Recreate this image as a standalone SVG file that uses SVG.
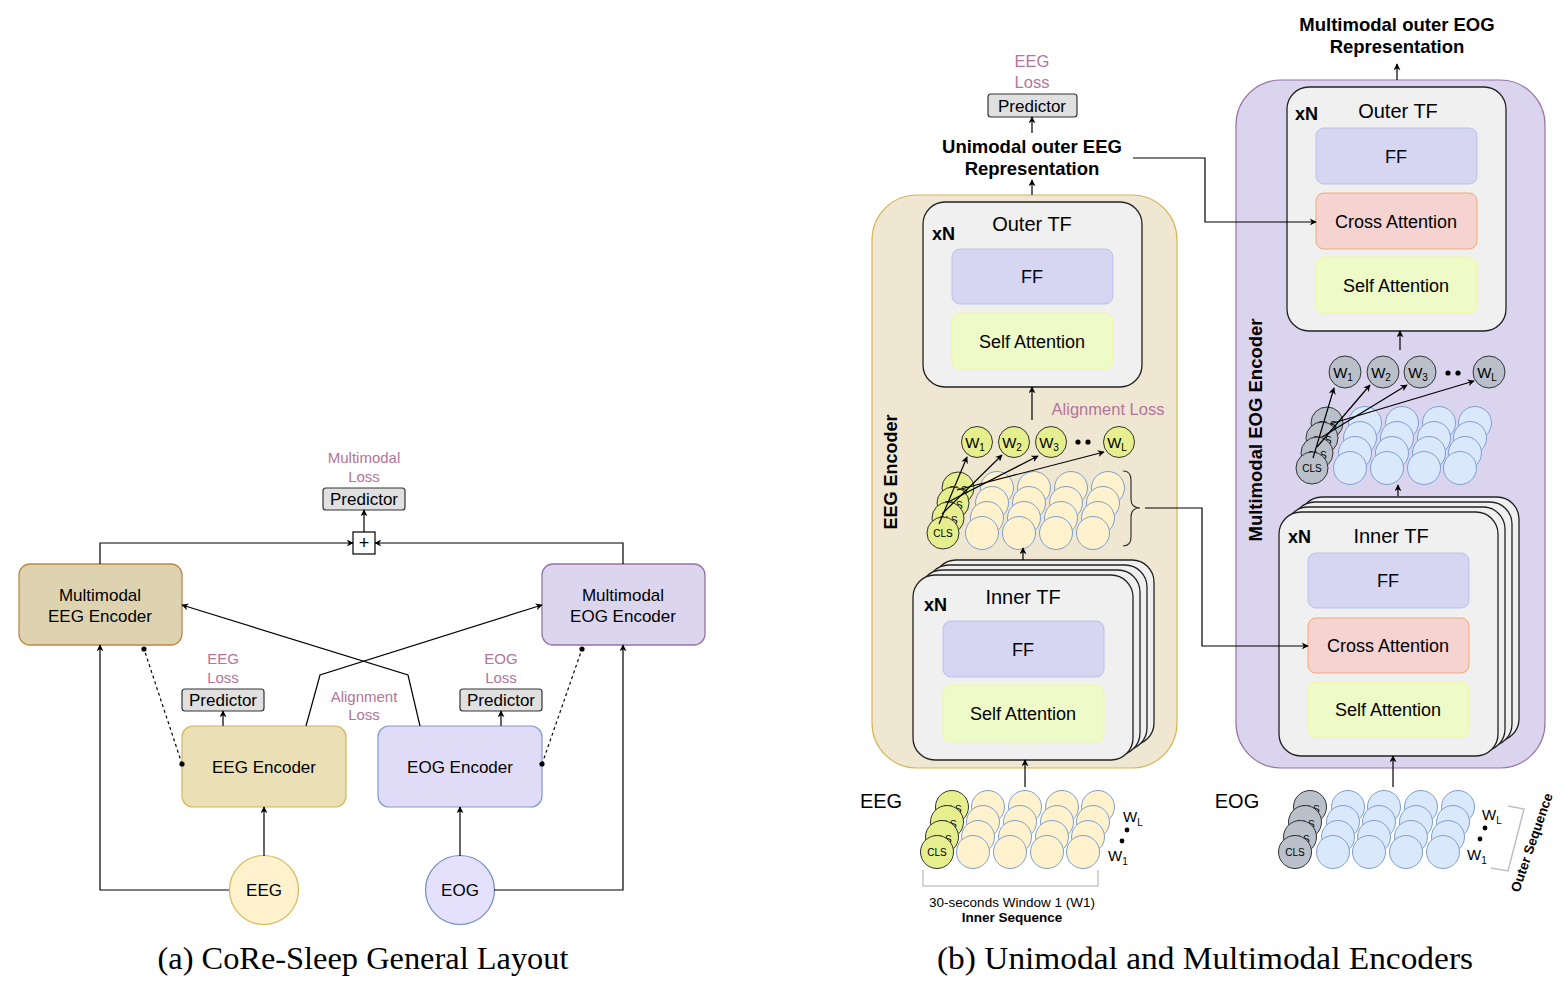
<svg xmlns="http://www.w3.org/2000/svg" width="1564" height="986" viewBox="0 0 1564 986">
<defs>
<marker id="arr" viewBox="0 0 10 10" refX="9" refY="5" markerWidth="7" markerHeight="7" markerUnits="userSpaceOnUse" orient="auto"><path d="M0,0 L10,5 L0,10 L3,5 z" fill="#000"/></marker>
<marker id="dot" viewBox="0 0 6 6" refX="3" refY="3" markerWidth="6" markerHeight="6" markerUnits="userSpaceOnUse"><circle cx="3" cy="3" r="2.6" fill="#000"/></marker>
<style>
text{font-family:"Liberation Sans",Arial,sans-serif;fill:#000}
.c{text-anchor:middle}
.b{font-weight:bold}
.pink{fill:#b5739d}
.pred{fill:#e0e0e0;stroke:#333;stroke-width:1.2}
.ln{fill:none;stroke:#000;stroke-width:1.2}
.tf{fill:#f0f0f0;stroke:#222;stroke-width:1.3}
.ff{fill:#d6d6f2;stroke:#b8c2e8;stroke-width:1}
.sa{fill:#eefbc9;stroke:#f4f5a0;stroke-width:1}
.ca{fill:#f5d3d0;stroke:#f0aa7a;stroke-width:1}
.tky{fill:#fff2cc;stroke:#7e9fcf;stroke-width:1}
.tkb{fill:#dae8fc;stroke:#7e9fcf;stroke-width:1}
.clg{fill:#e5ef8d;stroke:#333;stroke-width:1}
.cls{fill:#b9c0ca;stroke:#333;stroke-width:1}
.clt{font-size:10px;text-anchor:middle}
.wt{font-size:15px;text-anchor:middle}
.cap{font-family:"Liberation Serif","Times New Roman",serif;font-size:31px;text-anchor:middle}
</style>
</defs>

<!-- ===================== (a) ===================== -->
<g id="a-mm-eeg">
<rect x="19" y="564" width="163" height="81" rx="11" fill="#ded3b0" stroke="#bf8a45" stroke-width="1.3"/>
<text x="100" y="601" class="c" font-size="17">Multimodal</text>
<text x="100" y="622" class="c" font-size="17">EEG Encoder</text>
</g>
<g id="a-mm-eog">
<rect x="542" y="564" width="163" height="81" rx="11" fill="#dcd5ee" stroke="#9673a6" stroke-width="1.3"/>
<text x="623" y="601" class="c" font-size="17">Multimodal</text>
<text x="623" y="622" class="c" font-size="17">EOG Encoder</text>
</g>
<g id="a-plus">
<rect x="353" y="532" width="22" height="22" fill="#fff" stroke="#000" stroke-width="1.2"/>
<text x="364" y="549" class="c" font-size="18">+</text>
</g>
<g id="a-pred-mm">
<rect x="323" y="488" width="82" height="22" rx="3" class="pred"/>
<text x="364" y="505" class="c" font-size="17">Predictor</text>
<text x="364" y="463" class="c pink" font-size="15">Multimodal</text>
<text x="364" y="482" class="c pink" font-size="15">Loss</text>
</g>
<g id="a-eeg-enc">
<rect x="182" y="726" width="164" height="81" rx="11" fill="#ebdfb6" stroke="#d6b656" stroke-width="1.2"/>
<text x="264" y="773" class="c" font-size="17">EEG Encoder</text>
</g>
<g id="a-eog-enc">
<rect x="378" y="726" width="164" height="81" rx="11" fill="#e0dcf7" stroke="#7e9bd0" stroke-width="1.2"/>
<text x="460" y="773" class="c" font-size="17">EOG Encoder</text>
</g>
<g id="a-pred-eeg">
<rect x="182" y="689" width="82" height="22" rx="3" class="pred"/>
<text x="223" y="706" class="c" font-size="17">Predictor</text>
<text x="223" y="664" class="c pink" font-size="15">EEG</text>
<text x="223" y="683" class="c pink" font-size="15">Loss</text>
</g>
<g id="a-pred-eog">
<rect x="460" y="689" width="82" height="22" rx="3" class="pred"/>
<text x="501" y="706" class="c" font-size="17">Predictor</text>
<text x="501" y="664" class="c pink" font-size="15">EOG</text>
<text x="501" y="683" class="c pink" font-size="15">Loss</text>
</g>
<g id="a-align">
<text x="364" y="702" class="c pink" font-size="15">Alignment</text>
<text x="364" y="720" class="c pink" font-size="15">Loss</text>
</g>
<g id="a-eeg-in">
<ellipse cx="264" cy="890" rx="34.5" ry="34.5" fill="#fff2cc" stroke="#d6b656" stroke-width="1.2"/>
<text x="264" y="896" class="c" font-size="17">EEG</text>
</g>
<g id="a-eog-in">
<ellipse cx="460" cy="890" rx="34.5" ry="34.5" fill="#e5e0fb" stroke="#6c8ebf" stroke-width="1.2"/>
<text x="460" y="896" class="c" font-size="17">EOG</text>
</g>

<g id="a-connectors">
<path class="ln" d="M100,564 V543 H353" marker-end="url(#arr)"/>
<path class="ln" d="M623,564 V543 H375" marker-end="url(#arr)"/>
<path class="ln" d="M364,532 V510" marker-end="url(#arr)"/>
<path class="ln" d="M223,726 V711" marker-end="url(#arr)"/>
<path class="ln" d="M501,726 V711" marker-end="url(#arr)"/>
<path class="ln" d="M264,856 V807" marker-end="url(#arr)"/>
<path class="ln" d="M460,856 V807" marker-end="url(#arr)"/>
<path class="ln" d="M229,890 H100 V645" marker-end="url(#arr)"/>
<path class="ln" d="M494,890 H623 V645" marker-end="url(#arr)"/>
<path class="ln" d="M306,726 L320,675 L542,605" marker-end="url(#arr)"/>
<path class="ln" d="M420,726 L408,675 L182,605" marker-end="url(#arr)"/>
<path class="ln" d="M182,764 L144,649" stroke-dasharray="3,3" marker-start="url(#dot)" marker-end="url(#dot)"/>
<path class="ln" d="M542,764 L582,649" stroke-dasharray="3,3" marker-start="url(#dot)" marker-end="url(#dot)"/>
</g>

<text x="363" y="969" class="cap" textLength="411" lengthAdjust="spacingAndGlyphs">(a) CoRe-Sleep General Layout</text>

<!-- ===================== (b) ===================== -->
<g id="b-eeg-encoder">
<rect x="872" y="195" width="305" height="573" rx="45" fill="#efe7d1" stroke="#d6b656" stroke-width="1.2"/>
<text transform="translate(897,472) rotate(-90)" class="c b" font-size="18">EEG Encoder</text>
</g>
<g id="b-eog-encoder">
<rect x="1236" y="80" width="309" height="688" rx="45" fill="#dbd4ee" stroke="#9673a6" stroke-width="1.2"/>
<text transform="translate(1262,430) rotate(-90)" class="c b" font-size="18.5">Multimodal EOG Encoder</text>
</g>

<g id="b-eeg-outer-tf">
<rect x="923" y="202" width="219" height="185" rx="22" class="tf"/>
<text x="1032" y="231" class="c" font-size="20">Outer TF</text>
<text x="932" y="240" class="b" font-size="18">xN</text>
<rect x="952" y="249" width="161" height="55" rx="8" class="ff"/>
<text x="1032" y="283" class="c" font-size="18">FF</text>
<rect x="952" y="313" width="161" height="56" rx="8" class="sa"/>
<text x="1032" y="348" class="c" font-size="18">Self Attention</text>
</g>

<g id="b-eeg-inner-tf">
<rect x="934" y="560" width="220" height="185" rx="22" class="tf"/>
<rect x="927" y="565" width="220" height="185" rx="22" class="tf"/>
<rect x="920" y="570" width="220" height="185" rx="22" class="tf"/>
<rect x="913" y="575" width="220" height="185" rx="22" class="tf"/>
<text x="1023" y="604" class="c" font-size="20">Inner TF</text>
<text x="924" y="611" class="b" font-size="18">xN</text>
<rect x="943" y="621" width="161" height="56" rx="8" class="ff"/>
<text x="1023" y="656" class="c" font-size="18">FF</text>
<rect x="943" y="685" width="161" height="57" rx="8" class="sa"/>
<text x="1023" y="720" class="c" font-size="18">Self Attention</text>
</g>

<g id="b-eog-outer-tf">
<rect x="1287" y="87" width="219" height="244" rx="22" class="tf"/>
<text x="1398" y="118" class="c" font-size="20">Outer TF</text>
<text x="1295" y="120" class="b" font-size="18">xN</text>
<rect x="1316" y="128" width="161" height="56" rx="8" class="ff"/>
<text x="1396" y="163" class="c" font-size="18">FF</text>
<rect x="1316" y="193" width="161" height="56" rx="8" class="ca"/>
<text x="1396" y="228" class="c" font-size="18">Cross Attention</text>
<rect x="1316" y="257" width="161" height="56" rx="8" class="sa"/>
<text x="1396" y="292" class="c" font-size="18">Self Attention</text>
</g>

<g id="b-eog-inner-tf">
<rect x="1300" y="497" width="219" height="244" rx="22" class="tf"/>
<rect x="1293" y="502" width="219" height="244" rx="22" class="tf"/>
<rect x="1286" y="507" width="219" height="244" rx="22" class="tf"/>
<rect x="1279" y="512" width="219" height="244" rx="22" class="tf"/>
<text x="1391" y="543" class="c" font-size="20">Inner TF</text>
<text x="1288" y="543" class="b" font-size="18">xN</text>
<rect x="1308" y="553" width="161" height="55" rx="8" class="ff"/>
<text x="1388" y="587" class="c" font-size="18">FF</text>
<rect x="1308" y="618" width="161" height="55" rx="8" class="ca"/>
<text x="1388" y="652" class="c" font-size="18">Cross Attention</text>
<rect x="1308" y="682" width="161" height="55" rx="8" class="sa"/>
<text x="1388" y="716" class="c" font-size="18">Self Attention</text>
</g>

<g id="b-eeg-top">
<text x="1032" y="67" class="c pink" font-size="16.5">EEG</text>
<text x="1032" y="88" class="c pink" font-size="16.5">Loss</text>
<rect x="988" y="94" width="89" height="23" rx="3" class="pred"/>
<text x="1032" y="112" class="c" font-size="17">Predictor</text>
<text x="1032" y="153" class="c b" font-size="18.5">Unimodal outer EEG</text>
<text x="1032" y="175" class="c b" font-size="18.5">Representation</text>
</g>
<g id="b-eog-top">
<text x="1397" y="31" class="c b" font-size="18.5">Multimodal outer EOG</text>
<text x="1397" y="53" class="c b" font-size="18.5">Representation</text>
</g>
<text x="1108" y="415" class="c pink" font-size="16.5">Alignment Loss</text>

<!-- EEG middle tokens -->
<g id="b-eeg-tokens">
<circle cx="958" cy="488" r="16" class="clg"/><text x="958" y="494" class="clt">CLS</text>
<circle cx="997" cy="488" r="16.5" class="tky"/><circle cx="1034" cy="488" r="16.5" class="tky"/><circle cx="1071" cy="488" r="16.5" class="tky"/><circle cx="1108" cy="488" r="16.5" class="tky"/>
<circle cx="953" cy="503" r="16" class="clg"/><text x="953" y="509" class="clt">CLS</text>
<circle cx="992" cy="503" r="16.5" class="tky"/><circle cx="1029" cy="503" r="16.5" class="tky"/><circle cx="1066" cy="503" r="16.5" class="tky"/><circle cx="1103" cy="503" r="16.5" class="tky"/>
<circle cx="948" cy="518" r="16" class="clg"/><text x="948" y="524" class="clt">CLS</text>
<circle cx="987" cy="518" r="16.5" class="tky"/><circle cx="1024" cy="518" r="16.5" class="tky"/><circle cx="1061" cy="518" r="16.5" class="tky"/><circle cx="1098" cy="518" r="16.5" class="tky"/>
<circle cx="943" cy="533" r="16" class="clg"/><text x="943" y="537" class="clt">CLS</text>
<circle cx="982" cy="533" r="16.5" class="tky"/><circle cx="1019" cy="533" r="16.5" class="tky"/><circle cx="1056" cy="533" r="16.5" class="tky"/><circle cx="1093" cy="533" r="16.5" class="tky"/>
<path d="M1123,471 Q1131,471 1131,480 L1131,499 Q1131,508 1140,508 Q1131,508 1131,517 L1131,537 Q1131,546 1123,546" fill="none" stroke="#333" stroke-width="1.2"/>
</g>
<g id="b-eeg-w">
<circle cx="977" cy="442" r="15.5" class="clg"/><text x="975" y="448" class="wt">W<tspan font-size="10" dy="3">1</tspan></text>
<circle cx="1014" cy="442" r="15.5" class="clg"/><text x="1012" y="448" class="wt">W<tspan font-size="10" dy="3">2</tspan></text>
<circle cx="1051" cy="442" r="15.5" class="clg"/><text x="1049" y="448" class="wt">W<tspan font-size="10" dy="3">3</tspan></text>
<circle cx="1078" cy="442" r="2.6"/><circle cx="1088" cy="442" r="2.6"/>
<circle cx="1119" cy="442" r="15.5" class="clg"/><text x="1117" y="448" class="wt">W<tspan font-size="10" dy="3">L</tspan></text>
</g>

<!-- EOG middle tokens -->
<g id="b-eog-tokens">
<circle cx="1327" cy="423" r="16" class="cls"/><text x="1327" y="429" class="clt">CLS</text>
<circle cx="1365" cy="423" r="16.5" class="tkb"/><circle cx="1402" cy="423" r="16.5" class="tkb"/><circle cx="1439" cy="423" r="16.5" class="tkb"/><circle cx="1475" cy="423" r="16.5" class="tkb"/>
<circle cx="1322" cy="438" r="16" class="cls"/><text x="1322" y="444" class="clt">CLS</text>
<circle cx="1360" cy="438" r="16.5" class="tkb"/><circle cx="1397" cy="438" r="16.5" class="tkb"/><circle cx="1434" cy="438" r="16.5" class="tkb"/><circle cx="1470" cy="438" r="16.5" class="tkb"/>
<circle cx="1317" cy="453" r="16" class="cls"/><text x="1317" y="459" class="clt">CLS</text>
<circle cx="1355" cy="453" r="16.5" class="tkb"/><circle cx="1392" cy="453" r="16.5" class="tkb"/><circle cx="1429" cy="453" r="16.5" class="tkb"/><circle cx="1465" cy="453" r="16.5" class="tkb"/>
<circle cx="1312" cy="468" r="16" class="cls"/><text x="1312" y="472" class="clt">CLS</text>
<circle cx="1350" cy="468" r="16.5" class="tkb"/><circle cx="1387" cy="468" r="16.5" class="tkb"/><circle cx="1424" cy="468" r="16.5" class="tkb"/><circle cx="1460" cy="468" r="16.5" class="tkb"/>
</g>
<g id="b-eog-w">
<circle cx="1345" cy="372" r="16" class="cls"/><text x="1343" y="378" class="wt">W<tspan font-size="10" dy="3">1</tspan></text>
<circle cx="1383" cy="372" r="16" class="cls"/><text x="1381" y="378" class="wt">W<tspan font-size="10" dy="3">2</tspan></text>
<circle cx="1420" cy="372" r="16" class="cls"/><text x="1418" y="378" class="wt">W<tspan font-size="10" dy="3">3</tspan></text>
<circle cx="1448" cy="373" r="2.6"/><circle cx="1458" cy="373" r="2.6"/>
<circle cx="1489" cy="372" r="16" class="cls"/><text x="1487" y="378" class="wt">W<tspan font-size="10" dy="3">L</tspan></text>
</g>

<!-- EEG input tokens -->
<g id="b-eeg-input">
<text x="881" y="808" class="c" font-size="20">EEG</text>
<circle cx="952" cy="807" r="16.5" class="clg"/><text x="952" y="813" class="clt">CLS</text>
<circle cx="988" cy="807" r="16.5" class="tky"/><circle cx="1025" cy="807" r="16.5" class="tky"/><circle cx="1062" cy="807" r="16.5" class="tky"/><circle cx="1098" cy="807" r="16.5" class="tky"/>
<circle cx="947" cy="822" r="16.5" class="clg"/><text x="947" y="828" class="clt">CLS</text>
<circle cx="983" cy="822" r="16.5" class="tky"/><circle cx="1020" cy="822" r="16.5" class="tky"/><circle cx="1057" cy="822" r="16.5" class="tky"/><circle cx="1093" cy="822" r="16.5" class="tky"/>
<circle cx="942" cy="837" r="16.5" class="clg"/><text x="942" y="843" class="clt">CLS</text>
<circle cx="978" cy="837" r="16.5" class="tky"/><circle cx="1015" cy="837" r="16.5" class="tky"/><circle cx="1052" cy="837" r="16.5" class="tky"/><circle cx="1088" cy="837" r="16.5" class="tky"/>
<circle cx="937" cy="852" r="16.5" class="clg"/><text x="937" y="856" class="clt">CLS</text>
<circle cx="973" cy="852" r="16.5" class="tky"/><circle cx="1010" cy="852" r="16.5" class="tky"/><circle cx="1047" cy="852" r="16.5" class="tky"/><circle cx="1083" cy="852" r="16.5" class="tky"/>
<text x="1123" y="822" font-size="15">W<tspan font-size="10" dy="4">L</tspan></text>
<circle cx="1127" cy="830" r="2.4"/><circle cx="1122" cy="841" r="2.4"/>
<text x="1108" y="861" font-size="15">W<tspan font-size="10" dy="4">1</tspan></text>
<path d="M923,870 V886 H1098 V870" fill="none" stroke="#c8c8c8" stroke-width="1.5"/>
<text x="1012" y="907" class="c" font-size="13.5">30-seconds Window 1 (W1)</text>
<text x="1012" y="922" class="c b" font-size="13.5">Inner Sequence</text>
</g>

<!-- EOG input tokens -->
<g id="b-eog-input">
<text x="1237" y="808" class="c" font-size="20">EOG</text>
<circle cx="1310" cy="807" r="16.5" class="cls"/><text x="1310" y="813" class="clt">CLS</text>
<circle cx="1348" cy="807" r="16.5" class="tkb"/><circle cx="1384" cy="807" r="16.5" class="tkb"/><circle cx="1421" cy="807" r="16.5" class="tkb"/><circle cx="1458" cy="807" r="16.5" class="tkb"/>
<circle cx="1305" cy="822" r="16.5" class="cls"/><text x="1305" y="828" class="clt">CLS</text>
<circle cx="1343" cy="822" r="16.5" class="tkb"/><circle cx="1379" cy="822" r="16.5" class="tkb"/><circle cx="1416" cy="822" r="16.5" class="tkb"/><circle cx="1453" cy="822" r="16.5" class="tkb"/>
<circle cx="1300" cy="837" r="16.5" class="cls"/><text x="1300" y="843" class="clt">CLS</text>
<circle cx="1338" cy="837" r="16.5" class="tkb"/><circle cx="1374" cy="837" r="16.5" class="tkb"/><circle cx="1411" cy="837" r="16.5" class="tkb"/><circle cx="1448" cy="837" r="16.5" class="tkb"/>
<circle cx="1295" cy="852" r="16.5" class="cls"/><text x="1295" y="856" class="clt">CLS</text>
<circle cx="1333" cy="852" r="16.5" class="tkb"/><circle cx="1369" cy="852" r="16.5" class="tkb"/><circle cx="1406" cy="852" r="16.5" class="tkb"/><circle cx="1443" cy="852" r="16.5" class="tkb"/>
<text x="1482" y="820" font-size="15">W<tspan font-size="10" dy="4">L</tspan></text>
<circle cx="1485" cy="828" r="2.4"/><circle cx="1480" cy="839" r="2.4"/>
<text x="1467" y="860" font-size="15">W<tspan font-size="10" dy="4">1</tspan></text>
<polyline points="1508,806 1524,809 1508,871 1491,868" fill="none" stroke="#c0c0c0" stroke-width="1.5"/>
<text transform="translate(1536,844) rotate(-71)" class="c b" font-size="13.5">Outer Sequence</text>
</g>

<g id="b-connectors">
<path class="ln" d="M1032,133 V117" marker-end="url(#arr)"/>
<path class="ln" d="M1032,195 V180" marker-end="url(#arr)"/>
<path class="ln" d="M1133,158 H1205 V222 H1316" marker-end="url(#arr)"/>
<path class="ln" d="M1397,80 V64" marker-end="url(#arr)"/>
<path class="ln" d="M1032,420 V387" marker-end="url(#arr)"/>
<path class="ln" d="M1023,560 V548" marker-end="url(#arr)"/>
<path class="ln" d="M1025,787 V760" marker-end="url(#arr)"/>
<path class="ln" d="M1145,508 H1202 V646 H1308" marker-end="url(#arr)"/>
<path class="ln" d="M1400,350 V331" marker-end="url(#arr)"/>
<path class="ln" d="M1398,496 V485" marker-end="url(#arr)"/>
<path class="ln" d="M1393,787 V756" marker-end="url(#arr)"/>
<path class="ln" d="M939,524 L967,457" marker-end="url(#arr)"/>
<path class="ln" d="M942,514 L1002,455" marker-end="url(#arr)"/>
<path class="ln" d="M948,502 L1038,456" marker-end="url(#arr)"/>
<path class="ln" d="M957,490 L1104,452" marker-end="url(#arr)"/>
<path class="ln" d="M1313,458 L1334,388" marker-end="url(#arr)"/>
<path class="ln" d="M1317,447 L1370,385" marker-end="url(#arr)"/>
<path class="ln" d="M1322,437 L1407,385" marker-end="url(#arr)"/>
<path class="ln" d="M1330,424 L1474,381" marker-end="url(#arr)"/>
</g>

<text x="1205" y="969" class="cap" textLength="536" lengthAdjust="spacingAndGlyphs">(b) Unimodal and Multimodal Encoders</text>
</svg>
